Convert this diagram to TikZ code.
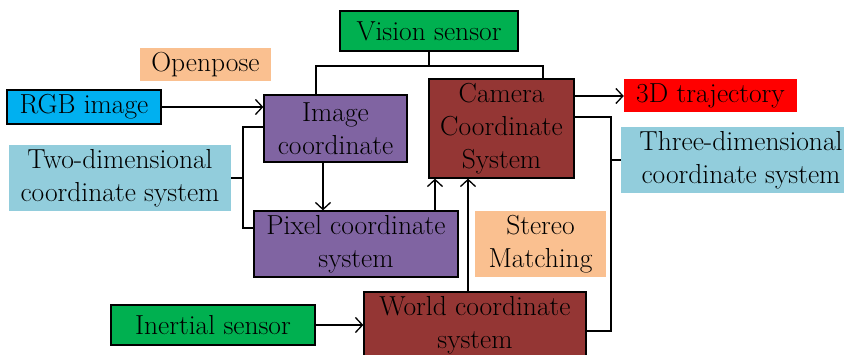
\documentclass[tikz,border=0pt]{standalone}
\usetikzlibrary{arrows.meta}
\definecolor{cgreen}{HTML}{00B050}
\definecolor{cblue}{HTML}{00B0F0}
\definecolor{cpurple}{HTML}{8064A2}
\definecolor{cbrown}{HTML}{943634}
\definecolor{clblue}{HTML}{92CDDC}
\definecolor{cpeach}{HTML}{FAC090}
\definecolor{cred}{HTML}{FF0000}
\tikzset{
  box/.style={draw=black, line width=1.3pt, inner sep=0pt, align=center, font=\fontsize{27.5}{33}\selectfont},
  tag/.style={draw=none, inner sep=0pt, align=center, font=\fontsize{27.5}{33}\selectfont},
  link/.style={line width=1.3pt, draw=black},
  arr/.style={link, -{Straight Barb[length=7pt,width=15pt,line width=1.3pt]}}
}
\begin{document}
\begin{tikzpicture}[x=1pt,y=-1pt]
\useasboundingbox (0,0) rectangle (844,355);
% nodes
\node[box, fill=cgreen, minimum width=178pt, minimum height=40pt] (vis) at (429,31) {Vision sensor};
\node[tag, fill=cpeach, minimum width=131pt, minimum height=33pt] (open) at (205.5,64.5) {Openpose};
\node[box, fill=cblue, minimum width=154pt, minimum height=34pt] (rgb) at (84,107) {RGB image};
\node[box, fill=cpurple, minimum width=143pt, minimum height=67pt] (imgc) at (335.5,128.5) {Image\\coordinate};
\node[tag, fill=clblue, minimum width=222pt, minimum height=66pt] (two) at (120,178) {Two-dimensional\\coordinate system};
\node[box, fill=cpurple, minimum width=204pt, minimum height=66pt] (pix) at (356,244) {Pixel coordinate\\system};
\node[box, fill=cgreen, minimum width=204pt, minimum height=40pt] (inert) at (213,325) {Inertial sensor};
\node[box, fill=cbrown, minimum width=222pt, minimum height=66pt] (world) at (475,325) {World coordinate\\system};
\node[box, fill=cbrown, minimum width=145pt, minimum height=99pt] (cam) at (501.5,128.5) {Camera\\Coordinate\\System};
\node[tag, fill=cred, minimum width=173pt, minimum height=33pt] (traj) at (710.5,95.5) {3D trajectory};
\node[tag, fill=clblue, minimum width=240pt, minimum height=66pt] (three) at (741,160) {Three-dimensional\\coordinate system};
\node[tag, fill=cpeach, minimum width=131pt, minimum height=66pt] (stereo) at (540.5,244) {Stereo\\Matching};
% junction coordinates
\coordinate (vj) at (429,66);
\coordinate (tj) at (243,178);
\coordinate (rj) at (611,160);
\coordinate (camL) at ([xshift=-66.5pt]cam.south);
\coordinate (camM) at ([xshift=-33.5pt]cam.south);
% connectors
\draw[link] (vis.south) -- (vj);
\draw[link] ([xshift=-19.5pt]imgc.north) |- (vj) -| ([xshift=41.5pt]cam.north);
\draw[arr] (rgb.east) -- ([yshift=21.5pt]imgc.west);
\draw[arr] ([xshift=-12.5pt]imgc.south) -- ([xshift=-12.5pt]imgc.south |- pix.north);
\draw[link] (two.east) -- (tj);
\draw[link] ([yshift=1.5pt]imgc.west) -| (tj);
\draw[link] ([yshift=16pt]pix.west) -| (tj);
\draw[arr] (camL |- pix.north) -- (camL);
\draw[arr] (camM |- world.north) -- (camM);
\draw[arr] ([yshift=32.5pt]cam.east) -- ([yshift=32.5pt]cam.east -| traj.west);
\draw[link] ([yshift=11.5pt]cam.east) -| (rj);
\draw[link] ([yshift=-6pt]world.east) -| (rj);
\draw[link] (rj) -- (three.west |- rj);
\draw[arr] (inert.east) -- (world.west);
\end{tikzpicture}
\end{document}
